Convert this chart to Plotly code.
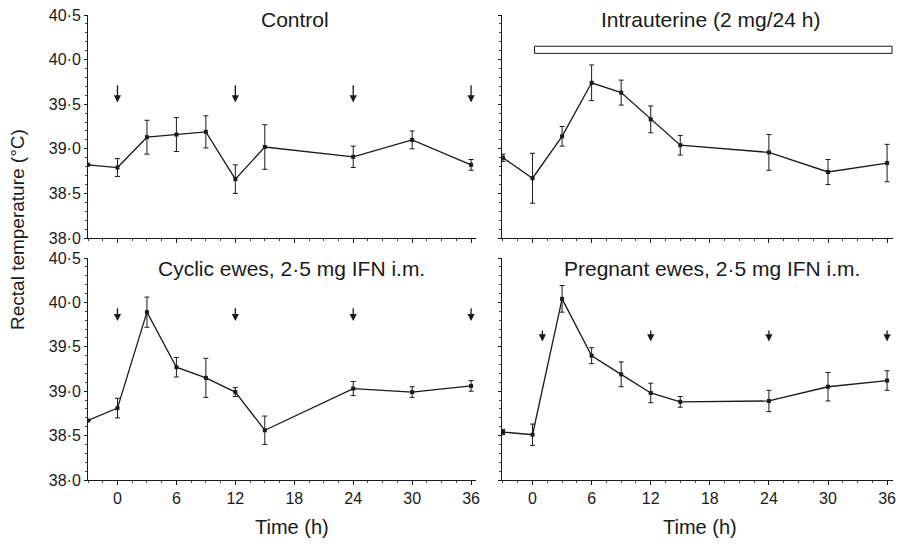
import plotly.graph_objects as go

# ---------------- data ----------------
times = [-3, 0, 3, 6, 9, 12, 15, 24, 30, 36]

control_temp = [38.82, 38.79, 39.13, 39.16, 39.19, 38.66, 39.02, 38.91, 39.10, 38.82]
control_sem = [0.0, 0.10, 0.19, 0.19, 0.18, 0.16, 0.25, 0.12, 0.10, 0.06]

intra_temp = [38.90, 38.67, 39.14, 39.74, 39.63, 39.33, 39.04, 38.96, 38.74, 38.84]
intra_sem = [0.04, 0.28, 0.11, 0.20, 0.14, 0.15, 0.11, 0.20, 0.14, 0.21]

cyclic_temp = [38.67, 38.81, 39.89, 39.27, 39.15, 38.99, 38.56, 39.03, 38.99, 39.06]
cyclic_sem = [0.0, 0.11, 0.17, 0.11, 0.22, 0.05, 0.16, 0.08, 0.06, 0.06]

preg_temp = [38.54, 38.51, 40.04, 39.40, 39.19, 38.98, 38.88, 38.89, 39.05, 39.12]
preg_sem = [0.03, 0.12, 0.15, 0.09, 0.14, 0.11, 0.06, 0.12, 0.16, 0.11]

control_arrows = [0, 12, 24, 36]
cyclic_arrows = [0, 12, 24, 36]
preg_arrows = [1, 12, 24, 36]

infusion_start, infusion_end = 0.2, 36.5

panel_titles = ["Control", "Intrauterine (2 mg/24 h)",
                "Cyclic ewes, 2·5 mg IFN i.m.", "Pregnant ewes, 2·5 mg IFN i.m."]
y_tickvals = [38.0, 38.5, 39.0, 39.5, 40.0, 40.5]
y_ticktext = ["38·0", "38·5", "39·0", "39·5", "40·0", "40·5"]
x_tickvals = [0, 6, 12, 18, 24, 30, 36]

# ---------------- figure ----------------
FONT = "Liberation Sans, Arial, sans-serif"
INK = "#1a1a1a"
W, H = 902, 545

def px(x):  # page pixel -> paper x
    return x / W

def py(y):  # page pixel -> paper y
    return 1 - y / H

fig = go.Figure()

panels = [
    (control_temp, control_sem, "x", "y"),
    (intra_temp, intra_sem, "x2", "y2"),
    (cyclic_temp, cyclic_sem, "x3", "y3"),
    (preg_temp, preg_sem, "x4", "y4"),
]
for temp, sem, xa, ya in panels:
    fig.add_trace(go.Scatter(
        x=times, y=temp, xaxis=xa, yaxis=ya, mode="lines+markers",
        line=dict(color=INK, width=1.3),
        marker=dict(symbol="square", size=4, color=INK),
        error_y=dict(type="data", array=sem, visible=True,
                     color=INK, thickness=1, width=2.5),
        showlegend=False, hoverinfo="skip"))

xL = [px(88), px(476)]
xR = [px(502), px(893)]
yT = [py(238), py(15)]
yB = [py(480), py(258)]

def xax(domain, anchor, rng, labels):
    return dict(domain=domain, anchor=anchor, range=rng, automargin=False,
                showline=True, linecolor=INK, linewidth=1,
                showgrid=False, zeroline=False,
                tickvals=x_tickvals, ticks="outside", ticklen=4, tickcolor=INK,
                showticklabels=labels,
                tickfont=dict(family=FONT, size=16, color=INK),
                minor=dict(dtick=1.5, tick0=0, ticks="outside", ticklen=2, tickcolor="#444"))

def yax(domain, anchor, labels):
    return dict(domain=domain, anchor=anchor, range=[38.0, 40.5], automargin=False,
                showline=True, linecolor=INK, linewidth=1,
                showgrid=False, zeroline=False,
                tickvals=y_tickvals, ticktext=y_ticktext,
                ticks="outside", ticklen=3, tickcolor=INK,
                showticklabels=labels,
                tickfont=dict(family=FONT, size=16, color=INK),
                minor=dict(dtick=0.1, tick0=38.0, ticks="outside", ticklen=2, tickcolor="#444"))

fig.update_layout(
    template="none",
    width=W, height=H,
    margin=dict(l=0, r=0, t=0, b=0),
    paper_bgcolor="white", plot_bgcolor="white",
    font=dict(family=FONT, color=INK),
    xaxis=xax(xL, "y", [-3, 36.5], False),
    yaxis=yax(yT, "x", True),
    xaxis2=xax(xR, "y2", [-3.1, 36.6], False),
    yaxis2=yax(yT, "x2", False),
    xaxis3=xax(xL, "y3", [-3, 36.5], True),
    yaxis3=yax(yB, "x3", True),
    xaxis4=xax(xR, "y4", [-3.1, 36.6], True),
    yaxis4=yax(yB, "x4", False),
)

# infusion bar
fig.add_shape(type="rect", xref="x2", yref="y2",
              x0=infusion_start, x1=infusion_end, y0=40.07, y1=40.15,
              line=dict(color=INK, width=1), fillcolor="white")

# injection arrows
def add_arrows(ts, xa, ya, top, tip):
    for t in ts:
        fig.add_annotation(x=t, y=tip, ax=t, ay=top, xref=xa, yref=ya,
                           axref=xa, ayref=ya, showarrow=True, text="",
                           arrowhead=2, arrowsize=1.1, arrowwidth=1.3,
                           arrowcolor=INK)

add_arrows(control_arrows, "x", "y", 39.73, 39.52)
add_arrows(cyclic_arrows, "x3", "y3", 39.95, 39.79)
add_arrows(preg_arrows, "x4", "y4", 39.70, 39.56)

# panel titles
title_pos = [(px(295), py(19)), (px(710), py(19)),
             (px(291), py(268)), (px(712), py(268))]
for txt, (tx, ty) in zip(panel_titles, title_pos):
    fig.add_annotation(text=txt, x=tx, y=ty, xref="paper", yref="paper",
                       showarrow=False, xanchor="center", yanchor="middle",
                       font=dict(family=FONT, size=21, color=INK))

# axis titles
fig.add_annotation(text="Rectal temperature (°C)", x=px(17), y=py(230),
                   xref="paper", yref="paper", showarrow=False, textangle=-90,
                   xanchor="center", yanchor="middle",
                   font=dict(family=FONT, size=19, color=INK))
for cx in (292, 700):
    fig.add_annotation(text="Time (h)", x=px(cx), y=py(527),
                       xref="paper", yref="paper", showarrow=False,
                       xanchor="center", yanchor="middle",
                       font=dict(family=FONT, size=20, color=INK))

# remove the default page margin so the figure sits at the window's corner
fig.write_html("out.html",
               config={"displayModeBar": False},
               post_script="document.body.style.margin='0';document.body.style.overflow='hidden';")
